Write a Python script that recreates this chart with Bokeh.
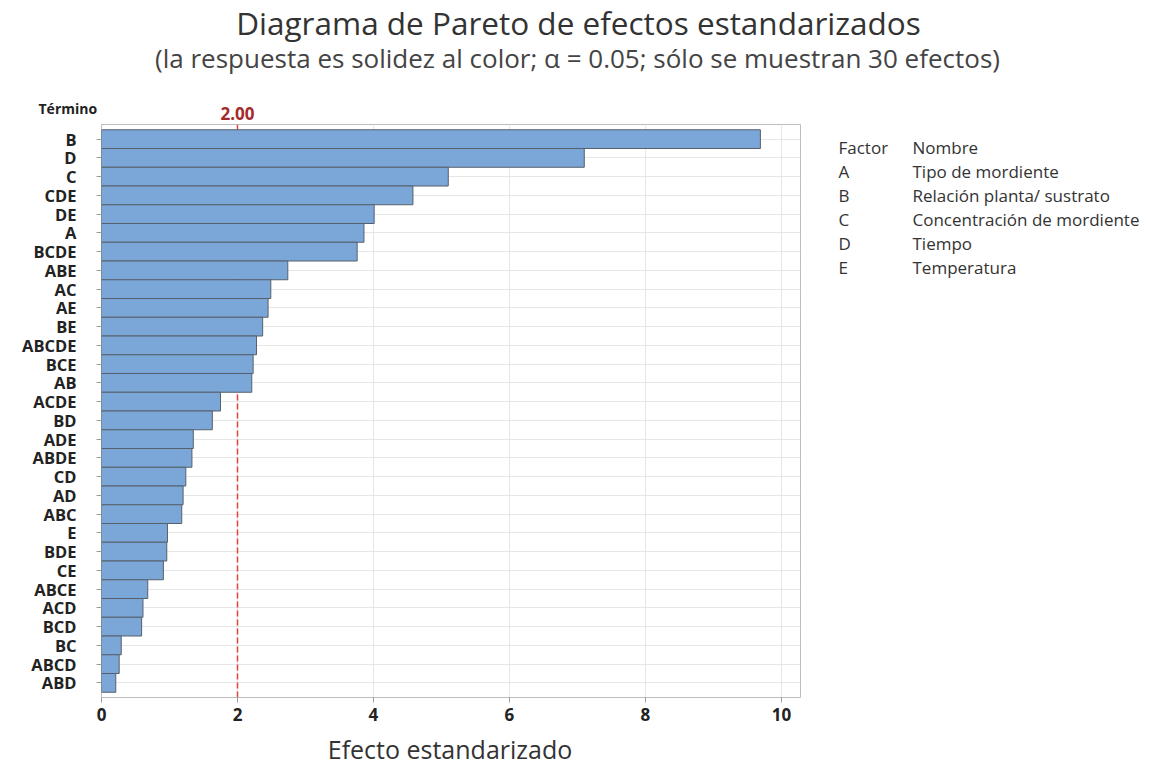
from bokeh.plotting import figure
from bokeh.layouts import column, row
from bokeh.models import FactorRange, Range1d, Span, FixedTicker, ColumnDataSource
from bokeh.core.properties import value
from bokeh.embed import file_html
from bokeh.resources import INLINE

# ---------------- data ----------------
terms = ["B", "D", "C", "CDE", "DE", "A", "BCDE", "ABE", "AC", "AE", "BE", "ABCDE",
         "BCE", "AB", "ACDE", "BD", "ADE", "ABDE", "CD", "AD", "ABC", "E", "BDE",
         "CE", "ABCE", "ACD", "BCD", "BC", "ABCD", "ABD"]
effects = [9.69, 7.10, 5.10, 4.58, 4.01, 3.86, 3.76, 2.74, 2.49, 2.45, 2.37, 2.28,
           2.23, 2.21, 1.75, 1.63, 1.35, 1.33, 1.24, 1.20, 1.18, 0.97, 0.96,
           0.91, 0.68, 0.61, 0.59, 0.29, 0.26, 0.21]
critical = 2.00
factor_codes = ["A", "B", "C", "D", "E"]
factor_names = ["Tipo de mordiente", "Relación planta/ sustrato",
                "Concentración de mordiente", "Tiempo", "Temperatura"]
x_ticks = [0, 2, 4, 6, 8, 10]

title_text = "Diagrama de Pareto de efectos estandarizados"
subtitle_text = "(la respuesta es solidez al color; \u03b1 = 0.05; sólo se muestran 30 efectos)"
y_title = "Término"
x_title = "Efecto estandarizado"

FONT = value("Open Sans")
W, H = 1152, 766
MAIN_W = 820

# frame of the chart (page pixels)
FL, FR, FT, FB = 101, 800, 124, 697
BOT = 731            # top of the bottom strip
X0, X1 = 0.0, 10.28
N = len(terms)
PAD = 0.28


def blank_fig(w, h, x0, x1, y_bottom, y_top):
    f = figure(width=w, height=h, output_backend="svg", toolbar_location=None,
               x_range=Range1d(x0, x1), y_range=Range1d(y_bottom, y_top),
               x_axis_location=None, y_axis_location=None, min_border=0)
    f.grid.visible = False
    f.outline_line_color = None
    f.background_fill_color = "white"
    f.border_fill_color = "white"
    return f


# ---------------- heading strip ----------------
top = blank_fig(W, FT, 0, W, FT, 0)
crit_px = FL + (critical - X0) / (X1 - X0) * (FR - FL)
top.text(x=[578], y=[22], text=[title_text], text_font=FONT, text_font_size="31.5px",
         text_color="#333333", text_align="center", text_baseline="middle")
top.text(x=[577], y=[57], text=[subtitle_text], text_font=FONT, text_font_size="26px",
         text_color="#444444", text_align="center", text_baseline="middle")
top.text(x=[38], y=[108], text=[y_title], text_font=FONT, text_font_size="14px",
         text_font_style="bold", text_color="#222222", text_align="left",
         text_baseline="middle")
top.text(x=[crit_px], y=[113], text=["%.2f" % critical], text_font=FONT,
         text_font_size="17px", text_font_style="bold", text_color="#a52a2a",
         text_align="center", text_baseline="middle")

# ---------------- main chart ----------------
MAIN_H = BOT - FT
p = figure(width=MAIN_W, height=MAIN_H, output_backend="svg", toolbar_location=None,
           y_range=FactorRange(factors=list(reversed(terms)), range_padding=2 * PAD / N),
           x_range=Range1d(X0, X1),
           min_border_left=FL, min_border_right=MAIN_W - FR,
           min_border_top=0, min_border_bottom=BOT - FB)
p.background_fill_color = "white"
p.border_fill_color = "white"
p.outline_line_color = "#bdbdbd"
p.outline_line_width = 1

p.add_layout(Span(location=critical, dimension="height", line_color="#e4413b",
                  line_width=1.5, line_dash="6 3", level="underlay"))

src = ColumnDataSource(dict(term=terms, effect=effects))
p.hbar(y="term", right="effect", left=0, height=1.0, source=src,
       fill_color="#7ba6d8", line_color="#56606c", line_width=1)

p.xaxis.ticker = FixedTicker(ticks=x_ticks)
p.xaxis.axis_line_color = None
p.xaxis.major_tick_line_color = "#9a9a9a"
p.xaxis.major_tick_out = 5
p.xaxis.major_tick_in = 0
p.xaxis.minor_tick_line_color = None
p.xaxis.major_label_text_font = "Open Sans"
p.xaxis.major_label_text_font_size = "17px"
p.xaxis.major_label_text_font_style = "bold"
p.xaxis.major_label_text_color = "#222222"
p.xaxis.major_label_standoff = 5

p.yaxis.axis_line_color = None
p.yaxis.major_tick_line_color = "#9a9a9a"
p.yaxis.major_tick_out = 5
p.yaxis.major_tick_in = 0
p.yaxis.major_label_text_font = "Open Sans"
p.yaxis.major_label_text_font_size = "16.5px"
p.yaxis.major_label_text_font_style = "bold"
p.yaxis.major_label_text_color = "#222222"
p.yaxis.major_label_standoff = 20

p.xgrid.grid_line_color = "#e6e6e6"
p.ygrid.grid_line_color = "#e6e6e6"

# ---------------- factor table (frame aligned with the chart frame) ----------------
LEG_W = W - MAIN_W
leg = blank_fig(LEG_W, MAIN_H, MAIN_W, W, FB, FT)
col1_x, col2_x = 838, 912
row0_y, row_step = 147, 24
leg_rows_y = [row0_y + row_step * (i + 1) for i in range(len(factor_codes))]
leg_src = ColumnDataSource(dict(code=factor_codes, name=factor_names, y=leg_rows_y,
                                x1=[col1_x] * len(factor_codes),
                                x2=[col2_x] * len(factor_codes)))
common = dict(text_font=FONT, text_font_size="17px", text_color="#333333",
              text_align="left", text_baseline="middle")
leg.text(x=[col1_x], y=[row0_y], text=["Factor"], **common)
leg.text(x=[col2_x], y=[row0_y], text=["Nombre"], **common)
leg.text(x="x1", y="y", text="code", source=leg_src, **common)
leg.text(x="x2", y="y", text="name", source=leg_src, **common)

# ---------------- bottom strip (x-axis title) ----------------
bottom = blank_fig(W, H - BOT, 0, W, H, BOT)
bottom.text(x=[(FL + FR) / 2 - 1], y=[748.5], text=[x_title], text_font=FONT,
            text_font_size="25px", text_color="#333333", text_align="center",
            text_baseline="middle")

layout = column(top, row(p, leg, spacing=0), bottom, spacing=0)
open("out.html", "w").write(file_html(layout, INLINE))
